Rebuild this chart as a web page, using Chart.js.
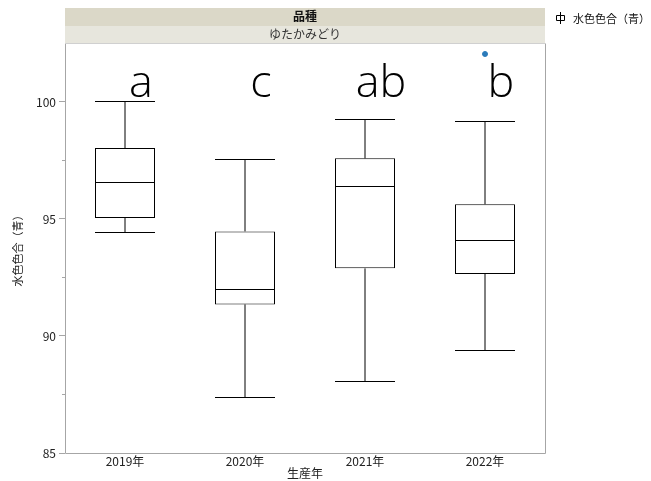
<!DOCTYPE html>
<html>
<head>
<meta charset="utf-8">
<script src="https://cdn.jsdelivr.net/npm/chart.js@4.4.1/dist/chart.umd.min.js"></script>
<style>
  html, body { margin: 0; padding: 0; background: #fff; }
  #wrap { width: 651px; height: 481px; }
</style>
</head>
<body>
<div id="wrap"><canvas id="c" width="651" height="481"></canvas></div>
<script>
// 生産年ごとの水色色合（青）— 箱ひげ図の要約統計量
const years        = ['2019年', '2020年', '2021年', '2022年'];
const whiskerLow   = [94.44, 87.38, 88.08, 89.40];
const quartile1    = [95.04, 91.35, 92.89, 92.65];
const medians      = [96.58, 92.00, 96.40, 94.09];
const quartile3    = [98.03, 94.47, 97.59, 95.63];
const whiskerHigh  = [100.04, 97.56, 99.26, 99.17];
const outliers     = [{ x: '2022年', y: 102.05 }];
const groupLetters = ['a', 'c', 'ab', 'b'];
const yTicks       = [85, 90, 95, 100];
const yMinorTicks  = [87.5, 92.5, 97.5];

const FONT = "'Noto Sans CJK JP', 'Noto Sans', sans-serif";
const LETTER_FONT = "300 45px 'Open Sans', 'Noto Sans CJK JP', sans-serif";
const AXIS_GRAY = '#a6a6a6';

const boxPlotPlugin = {
  id: 'boxPlot',
  beforeDraw(chart) {
    const { ctx, chartArea: a } = chart;
    ctx.save();
    // 層別ヘッダー（品種 / ゆたかみどり）
    ctx.fillStyle = '#dbd8c8';
    ctx.fillRect(a.left, 8, a.right - a.left, 18);
    ctx.fillStyle = '#e7e6dd';
    ctx.fillRect(a.left, 26, a.right - a.left, 17);
    ctx.textAlign = 'center';
    ctx.textBaseline = 'middle';
    ctx.fillStyle = '#111';
    ctx.font = 'bold 12px ' + FONT;
    ctx.fillText('品種', (a.left + a.right) / 2, 16.5);
    ctx.fillStyle = '#333';
    ctx.font = '12px ' + FONT;
    ctx.fillText('ゆたかみどり', (a.left + a.right) / 2, 34);
    ctx.restore();
  },
  afterDatasetsDraw(chart) {
    const { ctx } = chart;
    const xs = chart.scales.x, ys = chart.scales.y;
    const meta = chart.getDatasetMeta(0);
    ctx.save();
    ctx.strokeStyle = '#000';
    ctx.lineWidth = 1;
    years.forEach((_, i) => {
      const bar = meta.data[i];
      const cx = xs.getPixelForValue(i);
      const half = bar.width / 2;
      const yHi = Math.round(ys.getPixelForValue(whiskerHigh[i])) + 0.5;
      const yLo = Math.round(ys.getPixelForValue(whiskerLow[i])) + 0.5;
      const yQ3 = ys.getPixelForValue(quartile3[i]);
      const yQ1 = ys.getPixelForValue(quartile1[i]);
      const yMed = Math.round(ys.getPixelForValue(medians[i])) + 0.5;
      ctx.beginPath();
      // ひげ
      ctx.moveTo(cx, yQ3); ctx.lineTo(cx, yHi);
      ctx.moveTo(cx, yQ1); ctx.lineTo(cx, yLo);
      // ひげの端
      ctx.moveTo(cx - half, yHi); ctx.lineTo(cx + half, yHi);
      ctx.moveTo(cx - half, yLo); ctx.lineTo(cx + half, yLo);
      // 中央値
      ctx.moveTo(cx - half, yMed); ctx.lineTo(cx + half, yMed);
      ctx.stroke();
    });
    ctx.restore();
  },
  afterDraw(chart) {
    const { ctx, chartArea: a } = chart;
    const xs = chart.scales.x, ys = chart.scales.y;
    ctx.save();
    // 枠
    ctx.strokeStyle = AXIS_GRAY;
    ctx.lineWidth = 1;
    ctx.beginPath();
    ctx.moveTo(a.left + 0.5, a.top + 0.5);
    ctx.lineTo(a.left + 0.5, a.bottom + 0.5);
    ctx.lineTo(a.right + 0.5, a.bottom + 0.5);
    ctx.lineTo(a.right + 0.5, a.top + 0.5);
    ctx.stroke();
    ctx.strokeStyle = '#d0d0d0';
    ctx.beginPath();
    ctx.moveTo(a.left + 0.5, a.top + 0.5);
    ctx.lineTo(a.right + 0.5, a.top + 0.5);
    ctx.stroke();
    // 補助目盛
    ctx.strokeStyle = AXIS_GRAY;
    ctx.beginPath();
    yMinorTicks.forEach(v => {
      const y = Math.round(ys.getPixelForValue(v)) + 0.5;
      ctx.moveTo(a.left - 3, y); ctx.lineTo(a.left, y);
    });
    ctx.stroke();
    // 有意差の文字
    ctx.fillStyle = '#000';
    ctx.font = LETTER_FONT;
    ctx.textAlign = 'center';
    ctx.textBaseline = 'alphabetic';
    groupLetters.forEach((t, i) => {
      ctx.fillText(t, xs.getPixelForValue(i) + 16, ys.getPixelForValue(100.2));
    });
    // 凡例
    const lx = 560, ly = 18;
    ctx.strokeStyle = '#000';
    ctx.beginPath();
    ctx.moveTo(lx + 0.5, ly - 6); ctx.lineTo(lx + 0.5, ly + 6);
    ctx.rect(lx - 3.5, ly - 2.5, 8, 5);
    ctx.stroke();
    ctx.fillStyle = '#111';
    ctx.font = '11px ' + FONT;
    ctx.textAlign = 'left';
    ctx.textBaseline = 'middle';
    ctx.fillText('水色色合（青）', lx + 13, ly + 1);
    ctx.restore();
  }
};

new Chart(document.getElementById('c'), {
  type: 'bar',
  data: {
    labels: years,
    datasets: [
      {
        type: 'bar',
        label: '水色色合（青）',
        data: years.map((_, i) => [quartile1[i], quartile3[i]]),
        backgroundColor: '#ffffff',
        borderColor: '#000000',
        borderWidth: 1,
        borderSkipped: false,
        barPercentage: 0.5,
        categoryPercentage: 1.0,
        order: 2
      },
      {
        type: 'scatter',
        label: '外れ値',
        data: outliers,
        backgroundColor: '#2b7bba',
        borderColor: '#2b7bba',
        pointRadius: 2.5,
        order: 1
      }
    ]
  },
  options: {
    responsive: false,
    animation: false,
    devicePixelRatio: 1,
    layout: { padding: { top: 43, right: 106, left: 0, bottom: 0 } },
    plugins: { legend: { display: false }, tooltip: { enabled: false } },
    scales: {
      x: {
        type: 'category',
        offset: true,
        grid: { display: false, drawTicks: false },
        border: { display: false },
        ticks: { color: '#222', font: { family: FONT, size: 12 }, padding: 1, maxRotation: 0 },
        title: { display: true, text: '生産年', color: '#222', font: { family: FONT, size: 12 }, padding: { top: 0, bottom: 0 } },
        afterFit(scale) { scale.height = 28; }
      },
      y: {
        min: 85,
        max: 102.52,
        grid: { display: true, drawOnChartArea: false, drawTicks: true, tickLength: 6, color: AXIS_GRAY },
        border: { display: false },
        afterBuildTicks(scale) { scale.ticks = yTicks.map(v => ({ value: v })); },
        ticks: { color: '#222', font: { family: FONT, size: 12 }, padding: 3 },
        title: { display: true, text: '水色色合（青）', color: '#222', font: { family: FONT, size: 11 }, padding: { top: 11, bottom: 0 } },
        afterFit(scale) { scale.width = 65; }
      }
    }
  },
  plugins: [boxPlotPlugin]
});
</script>
</body>
</html>
